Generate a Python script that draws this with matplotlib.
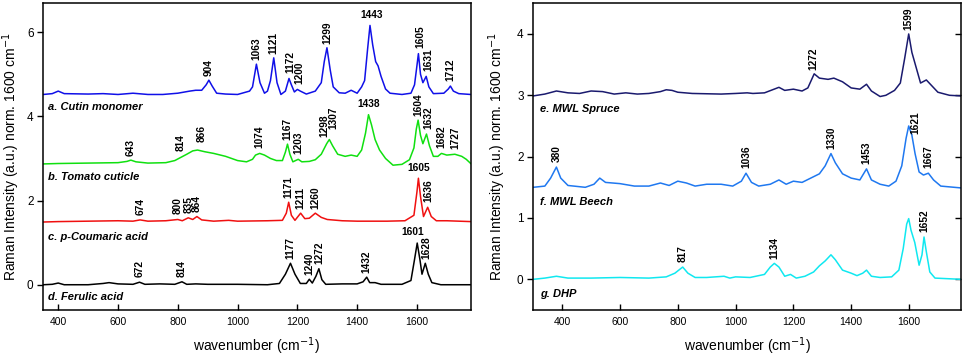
import numpy as np
import matplotlib
matplotlib.use("Agg")
import matplotlib.pyplot as plt
from matplotlib.lines import TICKLEFT

plt.rcParams['font.family'] = ['Liberation Sans', 'DejaVu Sans']

# ============================================================
# SPECTRA (wavenumber / intensity)
# ============================================================
cutin_wn = [350, 380, 400, 420, 500, 550, 600, 650, 700, 750, 800, 840, 860, 880, 895, 904,
            915, 930, 960, 1000, 1040, 1050, 1063, 1075, 1090, 1100, 1110, 1121, 1132, 1145,
            1160, 1172, 1180, 1190, 1200, 1210, 1230, 1260, 1280, 1290, 1299, 1310, 1320, 1340,
            1360, 1380, 1400, 1415, 1425, 1435, 1443, 1452, 1462, 1470, 1480, 1495, 1510, 1550,
            1580, 1592, 1600, 1605, 1612, 1620, 1631, 1640, 1655, 1690, 1705, 1712, 1722, 1740, 1780]
cutin_int = [4.52, 4.54, 4.6, 4.54, 4.53, 4.54, 4.52, 4.55, 4.52, 4.52, 4.55, 4.6, 4.62, 4.62, 4.75, 4.86,
             4.72, 4.55, 4.53, 4.52, 4.6, 4.7, 5.24, 4.8, 4.55, 4.6, 4.85, 5.39, 4.8, 4.52,
             4.6, 4.90, 4.75, 4.58, 4.64, 4.6, 4.53, 4.6, 4.8, 5.3, 5.63, 5.1, 4.7, 4.56,
             4.55, 4.62, 4.55, 4.7, 4.85, 5.6, 6.16, 5.7, 5.3, 5.2, 4.95, 4.65, 4.55, 4.52,
             4.55, 4.75, 5.2, 5.49, 5.0, 4.8, 4.95, 4.7, 4.54, 4.55, 4.65, 4.72, 4.6, 4.54, 4.52]

tomato_wn = [350, 400, 500, 600, 630, 643, 660, 700, 760, 790, 814, 830, 850, 866, 890, 920, 960,
             1000, 1030, 1050, 1060, 1074, 1090, 1110, 1130, 1150, 1160, 1167, 1175, 1185, 1203,
             1215, 1240, 1260, 1280, 1298, 1307, 1318, 1335, 1360, 1380, 1400, 1415, 1428, 1438,
             1448, 1460, 1475, 1495, 1520, 1550, 1575, 1590, 1598, 1604, 1612, 1620, 1632, 1642,
             1655, 1670, 1682, 1700, 1727, 1750, 1765, 1780]
tomato_int = [2.87, 2.88, 2.89, 2.9, 2.93, 2.96, 2.92, 2.89, 2.9, 2.95, 3.04, 3.1, 3.18, 3.2, 3.16, 3.12, 3.05,
              2.95, 2.92, 2.98, 3.08, 3.12, 3.08, 3.0, 2.95, 2.95, 3.15, 3.34, 3.1, 2.92, 2.98,
              2.92, 2.93, 2.97, 3.1, 3.35, 3.45, 3.3, 3.1, 3.05, 3.08, 3.05, 3.2, 3.6, 4.04,
              3.8, 3.45, 3.2, 3.0, 2.84, 2.86, 2.97, 3.25, 3.7, 3.91, 3.55, 3.35, 3.58, 3.3,
              3.05, 3.05, 3.12, 3.08, 3.1, 3.05, 2.98, 2.88]

coumaric_wn = [350, 400, 500, 600, 650, 674, 700, 760, 800, 815, 835, 850, 864, 880, 920, 970, 1000,
               1100, 1150, 1163, 1171, 1180, 1192, 1211, 1225, 1240, 1260, 1280, 1300, 1350, 1400,
               1500, 1560, 1590, 1600, 1605, 1612, 1622, 1636, 1648, 1665, 1700, 1780]
coumaric_int = [1.49, 1.5, 1.51, 1.52, 1.51, 1.54, 1.51, 1.52, 1.55, 1.52, 1.59, 1.55, 1.62, 1.54, 1.51, 1.53, 1.51,
                1.52, 1.53, 1.7, 1.96, 1.65, 1.53, 1.70, 1.57, 1.58, 1.70, 1.6, 1.55, 1.52, 1.51,
                1.51, 1.52, 1.65, 2.2, 2.53, 2.1, 1.62, 1.84, 1.62, 1.52, 1.52, 1.5]

ferulic_wn = [350, 380, 400, 420, 500, 550, 570, 600, 650, 672, 690, 740, 790, 814, 830, 860, 900,
              1000, 1100, 1140, 1160, 1177, 1192, 1210, 1230, 1240, 1250, 1262, 1272, 1282, 1295,
              1350, 1400, 1420, 1432, 1442, 1460, 1480, 1550, 1580, 1592, 1601, 1610, 1617, 1628,
              1638, 1650, 1680, 1780]
ferulic_int = [0.0, 0.01, 0.04, 0.0, 0.0, 0.03, 0.05, 0.02, 0.01, 0.06, 0.01, 0.02, 0.01, 0.07, 0.01, 0.02, 0.01,
               0.01, 0.0, 0.03, 0.25, 0.51, 0.25, 0.03, 0.03, 0.13, 0.04, 0.2, 0.38, 0.12, 0.01,
               0.02, 0.02, 0.07, 0.18, 0.05, 0.05, 0.01, 0.01, 0.1, 0.6, 0.99, 0.6, 0.25, 0.51,
               0.25, 0.05, 0.0, 0.0]

spruce_wn = [300, 340, 380, 420, 460, 500, 540, 580, 620, 660, 700, 740, 760, 780, 800, 850, 950,
             1000, 1040, 1060, 1100, 1150, 1170, 1200, 1230, 1250, 1272, 1290, 1320, 1340, 1370,
             1400, 1430, 1453, 1470, 1500, 1520, 1550, 1570, 1585, 1599, 1610, 1625, 1640, 1660,
             1680, 1700, 1740, 1780]
spruce_int = [2.99, 3.02, 3.07, 3.04, 3.03, 3.07, 3.06, 3.02, 3.04, 3.02, 3.03, 3.06, 3.09, 3.08, 3.05, 3.03, 3.02,
              3.03, 3.04, 3.03, 3.04, 3.13, 3.08, 3.1, 3.07, 3.12, 3.35, 3.28, 3.26, 3.28, 3.22,
              3.12, 3.1, 3.18, 3.07, 2.98, 3.0, 3.08, 3.2, 3.6, 4.0, 3.7, 3.45, 3.2, 3.25,
              3.15, 3.05, 3.0, 2.99]

beech_wn = [300, 340, 360, 380, 395, 420, 480, 510, 530, 550, 600, 650, 700, 740, 770, 800, 830, 860,
            900, 950, 990, 1020, 1036, 1055, 1080, 1120, 1150, 1175, 1200, 1230, 1260, 1290, 1310,
            1330, 1345, 1370, 1400, 1430, 1453, 1470, 1500, 1530, 1555, 1575, 1590, 1599, 1610,
            1621, 1635, 1650, 1667, 1685, 1710, 1780]
beech_int = [1.5, 1.52, 1.65, 1.83, 1.65, 1.53, 1.5, 1.55, 1.65, 1.58, 1.56, 1.52, 1.52, 1.57, 1.53, 1.6, 1.57, 1.52,
             1.55, 1.55, 1.52, 1.6, 1.73, 1.58, 1.52, 1.55, 1.62, 1.55, 1.6, 1.58, 1.65, 1.72, 1.85,
             2.05, 1.9, 1.72, 1.65, 1.62, 1.80, 1.62, 1.55, 1.52, 1.6, 1.85, 2.3, 2.5, 2.35,
             2.05, 1.75, 1.7, 1.73, 1.62, 1.52, 1.49]

dhp_wn = [300, 340, 380, 420, 500, 600, 700, 760, 790, 817, 835, 860, 900, 960, 980, 1000, 1050,
          1100, 1120, 1134, 1150, 1170, 1190, 1210, 1240, 1270, 1290, 1310, 1330, 1345, 1370,
          1400, 1420, 1440, 1453, 1470, 1500, 1540, 1565, 1580, 1592, 1599, 1607, 1620, 1635,
          1645, 1652, 1660, 1672, 1690, 1780]
dhp_int = [0.0, 0.02, 0.05, 0.02, 0.02, 0.03, 0.02, 0.04, 0.1, 0.2, 0.1, 0.03, 0.03, 0.05, 0.02, 0.04, 0.03,
           0.08, 0.2, 0.26, 0.2, 0.05, 0.08, 0.02, 0.05, 0.12, 0.22, 0.3, 0.40, 0.32, 0.15,
           0.1, 0.06, 0.1, 0.15, 0.05, 0.03, 0.04, 0.15, 0.5, 0.9, 0.99, 0.8, 0.6, 0.23,
           0.4, 0.69, 0.45, 0.12, 0.02, 0.0]

# Peak labels: (text, wavenumber, height the label sits on)
cutin_peaks = [('904', 904, 4.86), ('1063', 1063, 5.24), ('1121', 1121, 5.39), ('1172', 1177, 4.92),
               ('1200', 1207, 4.66), ('1299', 1299, 5.63), ('1605', 1610, 5.52), ('1631', 1640, 4.98),
               ('1712', 1713, 4.74)]
tomato_peaks = [('643', 643, 2.96), ('814', 808, 3.08), ('866', 880, 3.3), ('1074', 1074, 3.14),
                ('1167', 1167, 3.34), ('1203', 1203, 3.0), ('1298', 1292, 3.42), ('1307', 1320, 3.6),
                ('1604', 1604, 3.92), ('1632', 1640, 3.6), ('1682', 1682, 3.14), ('1727', 1727, 3.12)]
coumaric_peaks = [('674', 674, 1.56), ('800', 800, 1.57), ('835', 835, 1.61), ('864', 864, 1.64),
                  ('1171', 1171, 1.96), ('1211', 1211, 1.71), ('1260', 1260, 1.71), ('1636', 1640, 1.86)]
ferulic_peaks = [('672', 672, 0.08), ('814', 814, 0.09), ('1177', 1177, 0.52), ('1240', 1240, 0.14),
                 ('1272', 1272, 0.39), ('1432', 1432, 0.19), ('1628', 1632, 0.52)]
flat_peaks = [('1443', 1450, 6.2), ('1438', 1438, 4.07), ('1605', 1605, 2.56), ('1601', 1585, 1.03)]

spruce_peaks = [('1272', 1270, 3.35), ('1599', 1599, 4.0)]
beech_peaks = [('380', 380, 1.84), ('1036', 1036, 1.74), ('1330', 1330, 2.06), ('1453', 1453, 1.81),
               ('1621', 1621, 2.3), ('1667', 1667, 1.75)]
dhp_peaks = [('817', 817, 0.21), ('1134', 1134, 0.27), ('1652', 1652, 0.7)]

left_series = [(cutin_wn, cutin_int, '#1010e8', 'a. Cutin monomer', 4.22),
               (tomato_wn, tomato_int, '#10e010', 'b. Tomato cuticle', 2.55),
               (coumaric_wn, coumaric_int, '#f01010', 'c. p-Coumaric acid', 1.14),
               (ferulic_wn, ferulic_int, '#000000', 'd. Ferulic acid', -0.30)]
right_series = [(spruce_wn, spruce_int, '#1a1a6e', 'e. MWL Spruce', 2.78),
                (beech_wn, beech_int, '#1f78f0', 'f. MWL Beech', 1.26),
                (dhp_wn, dhp_int, '#10e8f0', 'g. DHP', -0.24)]

# ============================================================
# FIGURE
# ============================================================
fig = plt.figure(figsize=(9.64, 3.61), dpi=100)
ax_l = fig.add_axes([0.0449, 0.1413, 0.4434, 0.8512])
ax_r = fig.add_axes([0.5532, 0.1413, 0.4437, 0.8496])

YLABEL = 'Raman Intensity (a.u.) norm. 1600 cm$^{-1}$'
XLABEL = 'wavenumber (cm$^{-1}$)'


def vlabels(ax, peaks):
    for txt, wn, h in peaks:
        ax.annotate(txt, xy=(wn, h), xytext=(0, 3), textcoords='offset points',
                    rotation=90, ha='center', va='bottom', fontsize=7.3, fontweight='bold')


def style(ax, xlim, ylim, yticks, ylab_x):
    ax.set_xlim(*xlim)
    ax.set_ylim(*ylim)
    ax.set_yticks(yticks)
    ax.set_xticks([400, 600, 800, 1000, 1200, 1400, 1600])
    ax.tick_params(axis='x', direction='in', length=4, width=1, labelsize=7.5, pad=5)
    ax.tick_params(axis='y', direction='out', length=4, width=1, labelsize=8.5, pad=3)
    for s in ax.spines.values():
        s.set_linewidth(1.1)
    ax.set_xlabel(XLABEL, fontsize=10, labelpad=6)
    ax.set_ylabel(YLABEL, fontsize=10)
    ax.yaxis.set_label_coords(ylab_x, 0.5)


for wn, inten, col, name, ny in left_series:
    ax_l.plot(wn, inten, color=col, linewidth=1.1)
    ax_l.text(367, ny, name, fontsize=8, fontweight='bold', style='italic', va='center')
for peaks in (cutin_peaks, tomato_peaks, coumaric_peaks, ferulic_peaks):
    vlabels(ax_l, peaks)
for txt, wn, h in flat_peaks:
    ax_l.annotate(txt, xy=(wn, h), xytext=(0, 3), textcoords='offset points',
                  ha='center', va='bottom', fontsize=7.3, fontweight='bold')
style(ax_l, (350, 1780), (-0.6, 6.7), [0, 2, 4, 6], -0.049)

for wn, inten, col, name, ny in right_series:
    ax_r.plot(wn, inten, color=col, linewidth=1.1)
    ax_r.text(323, ny, name, fontsize=8, fontweight='bold', style='italic', va='center')
for peaks in (spruce_peaks, beech_peaks, dhp_peaks):
    vlabels(ax_r, peaks)
style(ax_r, (300, 1780), (-0.5, 4.5), [0, 1, 2, 3, 4], -0.058)
# right spine of the second panel carries inward ticks
ax_r.tick_params(axis='y', right=True)
for t in ax_r.yaxis.get_major_ticks():
    t.tick2line.set_marker(TICKLEFT)

fig.savefig('out.png', dpi=100)
